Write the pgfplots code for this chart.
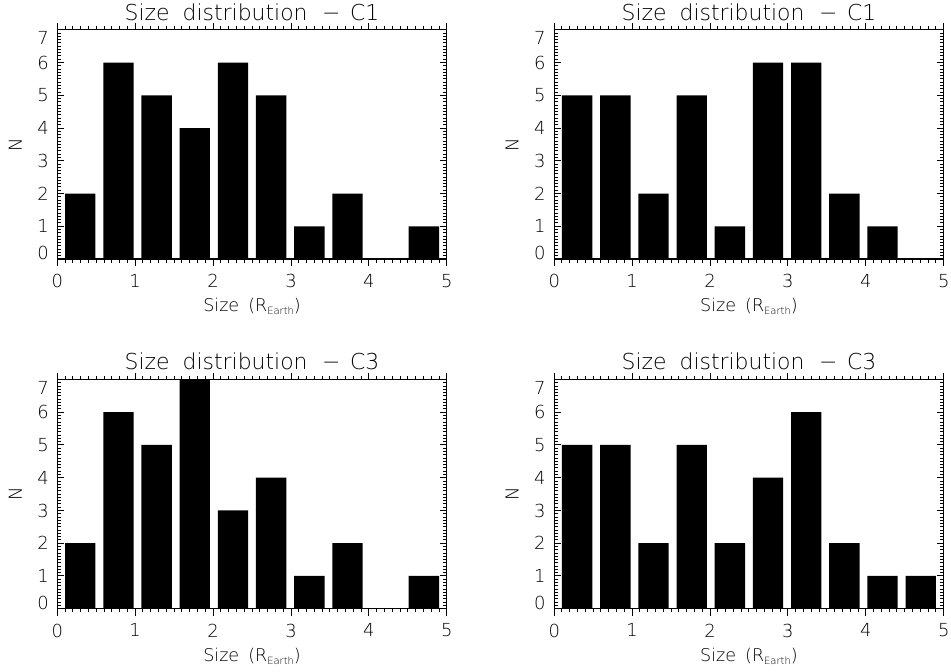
\documentclass[border=0pt]{standalone}
\usepackage{fontspec}
\setmainfont{DejaVu Sans ExtraLight}
\usepackage{pgfplots}
\pgfplotsset{compat=1.18}
\newcommand{\earth}{R\raisebox{-0.35ex}{\fontsize{5}{6}\selectfont Earth}}
\newcommand{\ttl}[1]{Size\hspace{6.5bp}distribution\hspace{7.3bp}−\hspace{4.8bp}#1}
\pgfplotsset{idl/.style={
  scale only axis, width=194.75bp, height=114.6bp,
  xmin=0, xmax=5, ymin=0, ymax=7,
  xtick={0,1,2,3,4,5}, ytick={0,1,2,3,4,5,6,7},
  yticklabels={\raisebox{2.8bp}[\height][\depth]{0},1,2,3,4,5,6,\raisebox{-4bp}[\height][\depth]{7}},
  minor x tick num=9, minor y tick num=9,
  tick align=inside, xtick pos=both, ytick pos=both,
  major tick length=3.5bp, minor tick length=1.8bp,
  axis line style={line width=0.6bp},
  every tick/.style={black, line width=0.5bp},
  /pgf/number format/assume math mode=true,
  tick label style={font=\fontsize{9}{11}\selectfont},
  xticklabel shift=0.5bp, yticklabel shift=0.8bp,
  every axis title/.style={at={(axis description cs:0.5,1)}, anchor=base, yshift=4.8bp, font=\fontsize{11}{13}\selectfont},
  every axis x label/.style={at={(axis description cs:0.5,0)}, anchor=base, yshift=-26.3bp, font=\fontsize{8.8}{11}\selectfont},
  every axis y label/.style={at={(axis description cs:0,0.5)}, anchor=center, rotate=90, yshift=21bp, font=\fontsize{9}{11}\selectfont},
  xlabel={Size\hspace{4.5bp}(\earth)},
  ylabel={N},
  ybar, bar width=0.39,
}}
\begin{document}
\begin{tikzpicture}
\path[use as bounding box] (0,0) rectangle (475.5bp,336bp);
% top left
\begin{axis}[idl, at={(28.65bp,206.5bp)}, anchor=south west, title={\ttl{C1}}]
\addplot[fill=black, draw=none] coordinates {(0.295,2) (0.785,6) (1.275,5) (1.765,4) (2.255,6) (2.745,5) (3.235,1) (3.725,2) (4.215,0) (4.705,1)};
\end{axis}
% top right
\begin{axis}[idl, at={(277.1bp,206.5bp)}, anchor=south west, title={\ttl{C1}}]
\addplot[fill=black, draw=none] coordinates {(0.295,5) (0.785,5) (1.275,2) (1.765,5) (2.255,1) (2.745,6) (3.235,6) (3.725,2) (4.215,1) (4.705,0)};
\end{axis}
% bottom left
\begin{axis}[idl, at={(28.65bp,31.65bp)}, anchor=south west, title={\ttl{C3}}]
\addplot[fill=black, draw=none] coordinates {(0.295,2) (0.785,6) (1.275,5) (1.765,7) (2.255,3) (2.745,4) (3.235,1) (3.725,2) (4.215,0) (4.705,1)};
\end{axis}
% bottom right
\begin{axis}[idl, at={(277.1bp,31.65bp)}, anchor=south west, title={\ttl{C3}}]
\addplot[fill=black, draw=none] coordinates {(0.295,5) (0.785,5) (1.275,2) (1.765,5) (2.255,2) (2.745,4) (3.235,6) (3.725,2) (4.215,1) (4.705,1)};
\end{axis}
\end{tikzpicture}
\end{document}
